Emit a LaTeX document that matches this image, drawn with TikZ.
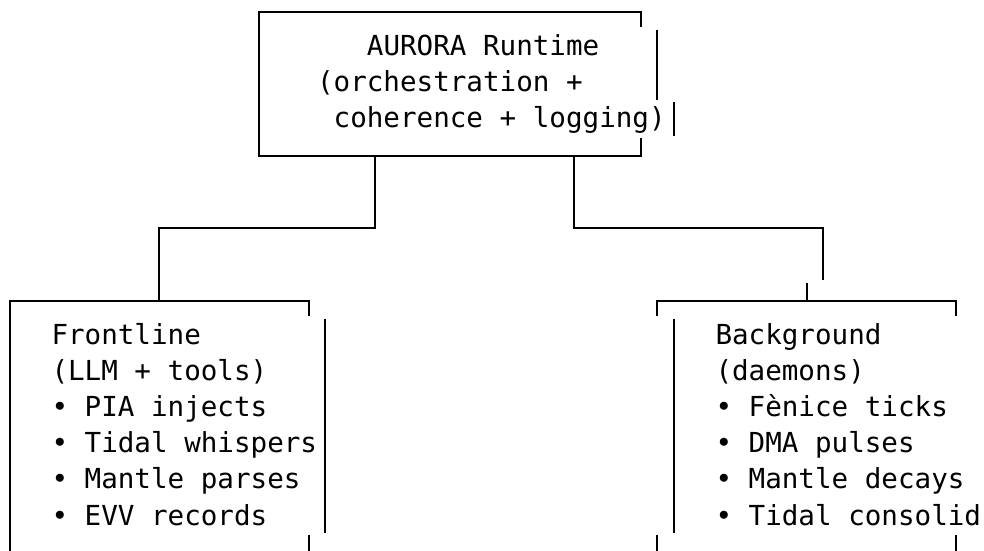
\documentclass[tikz,border=0pt]{standalone}
\usepackage{fontspec}
\newfontfamily\dvmono{DejaVu Sans Mono}
\begin{document}
\begin{tikzpicture}[x=1pt,y=-1pt,
  boxline/.style={line width=2.1pt, line cap=butt, line join=miter, black},
  txt/.style={anchor=base west, inner sep=0pt, outer sep=0pt, text=black,
              font=\dvmono\fontsize{27.57}{36.1}\selectfont}]
\useasboundingbox (0,0) rectangle (984,550);
\fill[white] (0,0) rectangle (984,550);

% ---------- top box: AURORA Runtime ----------
\node[txt] (a1) at (366.9,55.7) {AURORA Runtime};
\node[txt] (a2) at (317.1,91.8) {(orchestration +};
\node[txt] (a3) at (333.7,127.9) {coherence + logging)};

\coordinate (tTL) at (259,11.8);
\coordinate (tTR) at (640.8,11.8);
\coordinate (tBL) at (259,156.2);
\coordinate (tBR) at (640.8,156.2);
\draw[boxline] (tTR |- 0,27.3) -- (tTR) -- (tTL) -- (tBL) -- (tBR) -- (tBR |- 0,138.2);
\draw[boxline] (657.4,29.9) -- (657.4,99.5);
\draw[boxline] (674,102.1) -- (674,135.6);

% ---------- left box: Frontline ----------
\node[txt] (f1) at (51.5,344.5) {Frontline};
\node[txt] (f2) at (51.5,380.6) {(LLM + tools)};
\node[txt] (f3) at (51.5,416.7) {• PIA injects};
\node[txt] (f4) at (51.5,452.8) {• Tidal whispers};
\node[txt] (f5) at (51.5,488.9) {• Mantle parses};
\node[txt] (f6) at (51.5,525.0) {• EVV records};

\coordinate (lTL) at (10,300.6);
\coordinate (lTR) at (308.8,300.6);
\coordinate (lTop) at (159.4,300.6);
\draw[boxline] (10,552) -- (lTL) -- (lTR) -- (308.8,316.1);
\draw[boxline] (325.4,318.7) -- (325.4,532.7);
\draw[boxline] (308.8,535.3) -- (308.8,552);

% ---------- right box: Background ----------
\node[txt] (b1) at (715.5,344.5) {Background};
\node[txt] (b2) at (715.5,380.6) {(daemons)};
\node[txt] (b3) at (715.5,416.7) {• Fènice ticks};
\node[txt] (b4) at (715.5,452.8) {• DMA pulses};
\node[txt] (b5) at (715.5,488.9) {• Mantle decays};
\node[txt] (b6) at (715.5,525.0) {• Tidal consolid};

\coordinate (rTL) at (657.4,300.6);
\coordinate (rTR) at (956.2,300.6);
\coordinate (rTop) at (806.8,300.6);
\draw[boxline] (657.4,316.1) -- (rTL) -- (rTR) -- (956.2,316.1);
\draw[boxline] (674,318.7) -- (674,532.7);
\draw[boxline] (657.4,535.3) -- (657.4,552);
\draw[boxline] (956.2,535.3) -- (956.2,552);

% ---------- connectors ----------
\coordinate (pL) at (375.2,156.2);
\coordinate (pR) at (574.4,156.2);
\coordinate (rDrop) at (823.4,280.0);
\draw[boxline] (pL) -- (pL |- 0,228.4) -| (lTop);
\draw[boxline] (pR) -- (pR |- 0,228.4) -| (rDrop);
\draw[boxline] (rTop) -- (rTop |- 0,282.6);
\end{tikzpicture}
\end{document}
